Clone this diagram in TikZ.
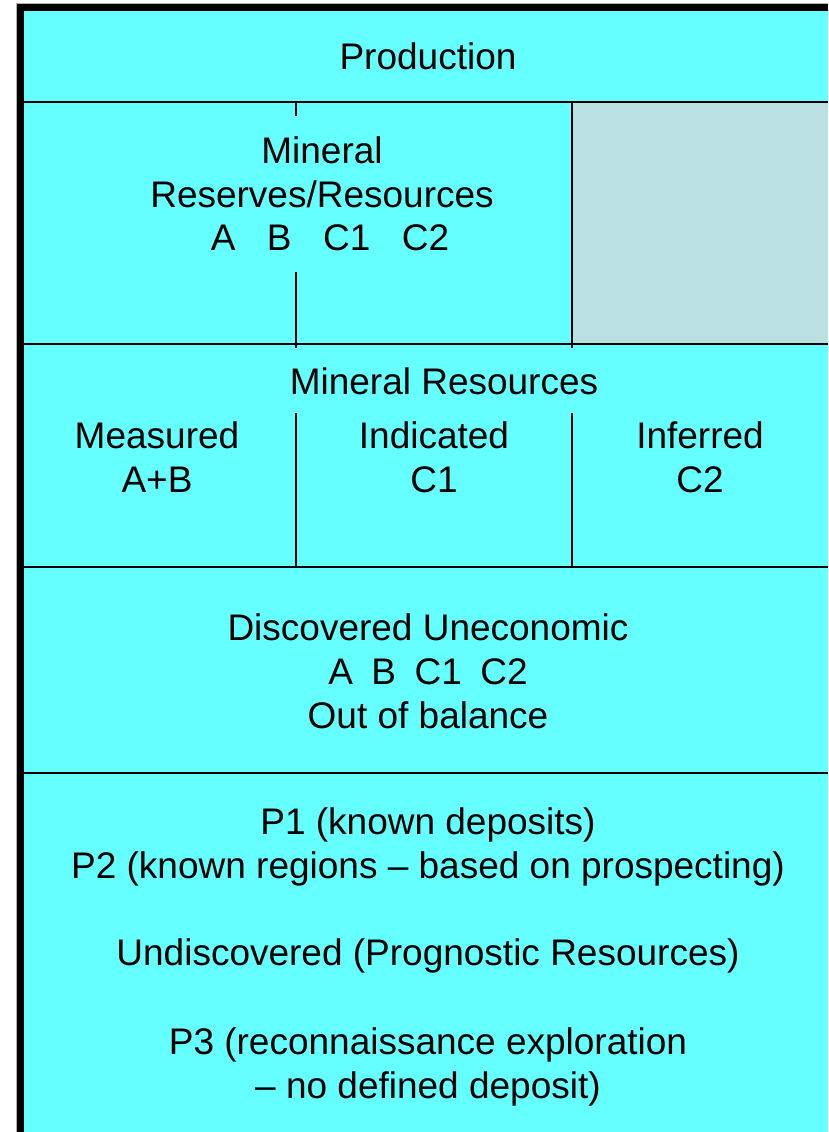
\documentclass[tikz,border=0pt]{standalone}
\usepackage{fontspec}
\setmainfont{Liberation Sans}
\definecolor{panel}{HTML}{66FFFF}
\definecolor{reservegray}{HTML}{BBE0E3}
\begin{document}
\begin{tikzpicture}[x=1pt,y=-1pt,
  rule/.style={draw=black,line width=2pt},
  frame/.style={draw=black,line width=7pt},
  label/.style={font=\fontsize{37}{44}\selectfont,align=center,inner sep=0pt,anchor=center}]
\useasboundingbox (0,0) rectangle (828,1132);
% background panel and the grey reserve cell
\fill[panel] (23,11) rectangle (828,1132);
\fill[reservegray] (572,102) rectangle (828,344);
% outer frame (left and top edges)
\draw[gray!60,line width=1pt] (16,1132) -- (16,4) -- (828,4);
\draw[frame] (20,1132) -- (20,8) -- (828,8);
% horizontal rules between the bands
\coordinate (h1l) at (23,102);  \coordinate (h1r) at (828,102);
\coordinate (h2l) at (23,344);  \coordinate (h2r) at (828,344);
\coordinate (h3l) at (23,567);  \coordinate (h3r) at (828,567);
\coordinate (h4l) at (23,773);  \coordinate (h4r) at (828,773);
\draw[rule] (h1l) -- (h1r);
\draw[rule] (h2l) -- (h2r);
\draw[rule] (h3l) -- (h3r);
\draw[rule] (h4l) -- (h4r);
% vertical dividers
\draw[rule] (296,102) -- (296,116);
\draw[rule] (296,272) -- (296,348);
\draw[rule] (572,102) -- (572,348);
\draw[rule] (296,413) -- (296,567);
\draw[rule] (572,413) -- (572,567);
% texts
\node[label] (prod) at (428,56) {Production};
\node[label] (res) at (322,194) {Mineral\\Reserves/Resources\\\phantom{.}};
\node[label] (abc) at (330,238) {A\hspace{0.85em}B\hspace{0.85em}C1\hspace{0.85em}C2};
\node[label] (mr) at (444,381) {Mineral Resources};
\node[label] (meas) at (157,457) {Measured\\A+B};
\node[label] (ind) at (434,457) {Indicated\\C1};
\node[label] (inf) at (700,457) {Inferred\\C2};
\node[label] (unec) at (428,671) {Discovered Uneconomic\\A\hspace{0.5em}B\hspace{0.5em}C1\hspace{0.5em}C2\\Out of balance};
\node[label] (p12) at (428,847) {P1 (known deposits)\\P2 (known regions – based on prospecting)};
\node[label] (und) at (428,956) {Undiscovered (Prognostic Resources)};
\node[label] (p3) at (428,1067) {P3 (reconnaissance exploration\\– no defined deposit)};
\end{tikzpicture}
\end{document}
